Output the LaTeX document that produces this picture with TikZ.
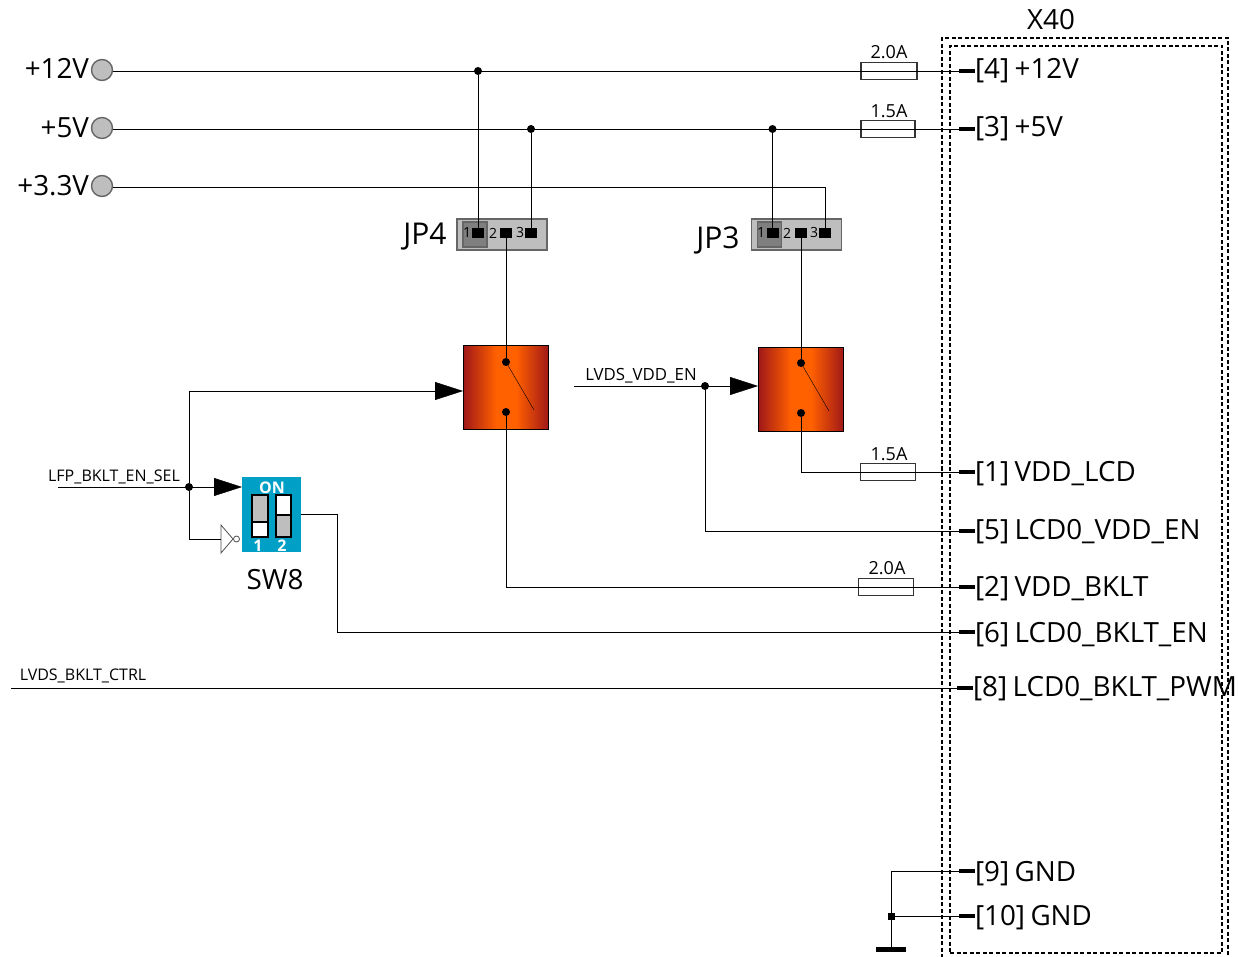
\documentclass[tikz,border=0pt]{standalone}
\usepackage{fontspec}
\setmainfont[WordSpace=0.75]{Open Sans}
\usetikzlibrary{arrows.meta,
  positioning,
  shapes.geometric
}
\definecolor{swblue}{HTML}{009FC6}
\definecolor{jpgray}{HTML}{BEBEBE}
\definecolor{jpdark}{HTML}{7F7F7F}
\definecolor{relred}{HTML}{A01818}
\definecolor{relorange}{HTML}{FF6000}
\pgfdeclarehorizontalshading{relshade}{100bp}{color(0bp)=(relred); color(25bp)=(relred); color(44bp)=(relorange); color(56bp)=(relorange); color(75bp)=(relred); color(100bp)=(relred)}
\pgfdeclarelayer{background}
\pgfdeclarelayer{foreground}
\pgfsetlayers{background,main,foreground}

\begin{document}
\begin{tikzpicture}[x=1pt,y=-1pt,line width=1.3pt,
        every node/.style={inner sep=0pt,outer sep=0pt},
        termnode/.style={circle, draw=black!60, fill=jpgray, line width=1.4pt, minimum size=21pt},
        dotnode/.style={circle, fill=black, minimum size=8pt},
        pinstub/.style={rectangle, fill=black, minimum width=16pt, minimum height=4pt},
        pinsq/.style={rectangle, fill=black, minimum width=12pt, minimum height=10pt},
        fusenode/.style={rectangle, draw=black!80, minimum width=55pt, minimum height=17pt},
        jumper/.style={rectangle, draw=black!60, fill=jpgray, minimum width=90pt, minimum height=31pt},
        jumperone/.style={rectangle, draw=black!60, fill=jpdark, line width=1.4pt, minimum width=24pt, minimum height=25pt},
        relay/.style={rectangle, draw=black, line width=1.6pt, shading=relshade, minimum width=85pt, minimum height=84pt},
        connbox/.style={draw, line width=1.1pt, dash pattern=on 4pt off 2.5pt, anchor=north west},
        bigtext/.style={font=\fontsize{27.8}{30}\selectfont, anchor=base west},
        amptext/.style={font=\fontsize{18}{20}\selectfont},
        sigtext/.style={font=\fontsize{16}{18}\selectfont},
        jptext/.style={font=\fontsize{14}{16}\selectfont},
        swtext/.style={font=\fontsize{16}{18}\selectfont\bfseries, text=white},
        bigarrow/.style={-{Triangle[length=28pt,width=18pt]}},
      ]
      \useasboundingbox (0,0) rectangle (1238,957);
      % Connector
      \node[connbox, minimum width=286pt, minimum height=930pt] (x40outer) at (942,38) {};
      \node[connbox, minimum width=272pt, minimum height=907pt] (x40inner) at (950,46) {};
      \node[bigtext, anchor=base] (x40) at (1051,30) {X40};

      % Nodes
      \node[termnode] (term12) at (102,70) {};
      \node[termnode] (term5) at (102,128) {};
      \node[termnode] (term33) at (102,186) {};
      \node[bigtext, anchor=base east] (label12) at (89,79) {+12V};
      \node[bigtext, anchor=base east] (label5) at (89,138) {+5V};
      \node[bigtext, anchor=base east] (label33) at (89,196) {+3.3V};

      \node[pinstub] (pin4) at (967,71) {};
      \node[pinstub] (pin3) at (967,129) {};
      \node[pinstub] (pin1) at (967,472) {};
      \node[pinstub] (pin5) at (967,531) {};
      \node[pinstub] (pin2) at (967,587) {};
      \node[pinstub] (pin6) at (967,632) {};
      \node[pinstub] (pin8) at (965,688) {};
      \node[pinstub] (pin9) at (967,871) {};
      \node[pinstub] (pin10) at (967,916) {};

      \node[bigtext] (name4) at (975,79) {[4] +12V};
      \node[bigtext] (name3) at (975,137) {[3] +5V};
      \node[bigtext] (name1) at (975,481) {[1] VDD\_LCD};
      \node[bigtext] (name5) at (975,539) {[5] LCD0\_VDD\_EN};
      \node[bigtext] (name2) at (975,596) {[2] VDD\_BKLT};
      \node[bigtext] (name6) at (975,642) {[6] LCD0\_BKLT\_EN};
      \node[bigtext] (name8) at (973,696) {[8] LCD0\_BKLT\_PWM};
      \node[bigtext] (name9) at (975,881) {[9] GND};
      \node[bigtext] (name10) at (975,925) {[10] GND};

      \node[fusenode, minimum width=56pt] (fuse12) at (889,71) {};
      \node[fusenode, minimum width=54pt] (fuse5) at (888,129) {};
      \node[fusenode] (fuselcd) at (888,472) {};
      \node[fusenode] (fusebklt) at (886,587) {};
      \node[amptext] (amp12) at (889,52) {2.0A};
      \node[amptext] (amp5) at (889,111) {1.5A};
      \node[amptext] (amplcd) at (889,454) {1.5A};
      \node[amptext] (ampbklt) at (887,568) {2.0A};

      % Jumpers
      \node[jumper] (jp4) at (502,234.5) {};
      \node[jumperone] (jp4one) at (475,234.5) {};
      \node[pinsq] (jp4a) at (478,233) {};
      \node[pinsq] (jp4b) at (506,233) {};
      \node[pinsq] (jp4c) at (531,233) {};
      \node[jptext] at (467,233) {1};
      \node[jptext] at (493,233) {2};
      \node[jptext] at (520,233) {3};
      \node[bigtext, anchor=base, font=\fontsize{30}{32}\selectfont] (jp4label) at (425,245) {JP4};

      \node[jumper] (jp3) at (796.5,234.5) {};
      \node[jumperone] (jp3one) at (769.5,234.5) {};
      \node[pinsq] (jp3a) at (772.5,233) {};
      \node[pinsq] (jp3b) at (801,233) {};
      \node[pinsq] (jp3c) at (825,233) {};
      \node[jptext] at (761,233) {1};
      \node[jptext] at (787,233) {2};
      \node[jptext] at (814,233) {3};
      \node[bigtext, anchor=base, font=\fontsize{30}{32}\selectfont] (jp3label) at (718,249) {JP3};

      % Relays
      \node[relay] (relbklt) at (506,387.5) {};
      \node[dotnode] (relbklttop) at (506,362) {};
      \node[dotnode] (relbkltbot) at (506,412) {};
      \coordinate (relbkltend) at (534,410);
      \coordinate (relbkltin) at (463,391);
      \node[relay] (relvdd) at (801,389.5) {};
      \node[dotnode] (relvddtop) at (801,363) {};
      \node[dotnode] (relvddbot) at (801,413) {};
      \coordinate (relvddend) at (829,411);
      \coordinate (relvddin) at (758,386);

      % Switch
      \node[rectangle, fill=swblue, minimum width=59pt, minimum height=75pt] (sw8) at (271.5,514.5) {};
      \coordinate (swin) at (242,487);
      \node[swtext] (swon) at (272,488) {ON};
      \node[rectangle, draw=black, fill=jpgray, minimum width=16pt, minimum height=27pt, anchor=north] (swa) at (260,495) {};
      \node[rectangle, draw=black, fill=white, minimum width=16pt, minimum height=15pt, anchor=north] (swab) at (260,522) {};
      \node[rectangle, draw=black, fill=white, minimum width=15pt, minimum height=20pt, anchor=north] (swb) at (283.5,495) {};
      \node[rectangle, draw=black, fill=jpgray, minimum width=15pt, minimum height=22pt, anchor=north] (swbb) at (283.5,515) {};
      \node[swtext] (swone) at (258,546) {1};
      \node[swtext] (swtwo) at (282,546) {2};
      \node[bigtext, anchor=base] (sw8label) at (275,589) {SW8};

      \node[isosceles triangle, isosceles triangle stretches, draw=black!70, fill=white, line width=0.8pt, minimum height=12pt, minimum width=28pt, anchor=lower side] (inv) at (221,539) {};
      \node[circle, draw=black!70, fill=white, line width=0.8pt, minimum size=6pt] (invdot) at (236.5,539) {};

      % Free ends and junctions
      \node[dotnode] (dot12) at (478,71) {};
      \node[dotnode] (dot5a) at (531,129) {};
      \node[dotnode] (dot5b) at (772.5,129) {};
      \node[dotnode] (dotsel) at (189,487) {};
      \node[dotnode] (dotvdd) at (705,386) {};
      \node[rectangle, fill=black, minimum size=7pt] (dotgnd) at (891,916) {};
      \coordinate (selstart) at (58,487);
      \coordinate (vddstart) at (574,386);
      \coordinate (ctrlstart) at (11,688);
      \coordinate (gndturn) at (891,871);
      \node[rectangle, fill=black, minimum width=30pt, minimum height=5pt] (gnd) at (891,949) {};

      \node[sigtext] (sellabel) at (114,477) {LFP\_BKLT\_EN\_SEL};
      \node[sigtext, font=\fontsize{16.8}{18}\selectfont] (vddlabel) at (641,376) {LVDS\_VDD\_EN};
      \node[sigtext] (ctrllabel) at (83,676) {LVDS\_BKLT\_CTRL};

      % Lines
      \begin{pgfonlayer}{foreground}
      \draw (term12.east) ++(0,1) -- (pin4);
      \draw (term5.east) ++(0,1) -- (pin3);
      \draw (term33.east) ++(0,1) -| (jp3c.center);
      \draw (dot12) -- (jp4a.center);
      \draw (dot5a) -- (jp4c.center);
      \draw (dot5b) -- (jp3a.center);
      \draw (jp4b.center) -- (relbklttop);
      \draw (jp3b.center) -- (relvddtop);
      \draw (relbklttop) -- (relbkltend);
      \draw (relvddtop) -- (relvddend);
      \draw (relbkltbot) |- (pin2);
      \draw (relvddbot) |- (pin1);
      \draw (dotvdd) |- (pin5);
      \draw[bigarrow] (vddstart) -- (relvddin);
      \draw[bigarrow] (selstart) -- (swin);
      \draw[bigarrow] (dotsel) |- (relbkltin);
      \draw (dotsel) |- (inv.lower side);
      \draw (sw8.east) -- ++(36,0) |- (pin6);
      \draw (ctrlstart) -- (pin8);
      \draw (gnd) -- (gndturn) -- (pin9);
      \draw (dotgnd) -- (pin10);
      \end{pgfonlayer}
    \end{tikzpicture}
\end{document}
